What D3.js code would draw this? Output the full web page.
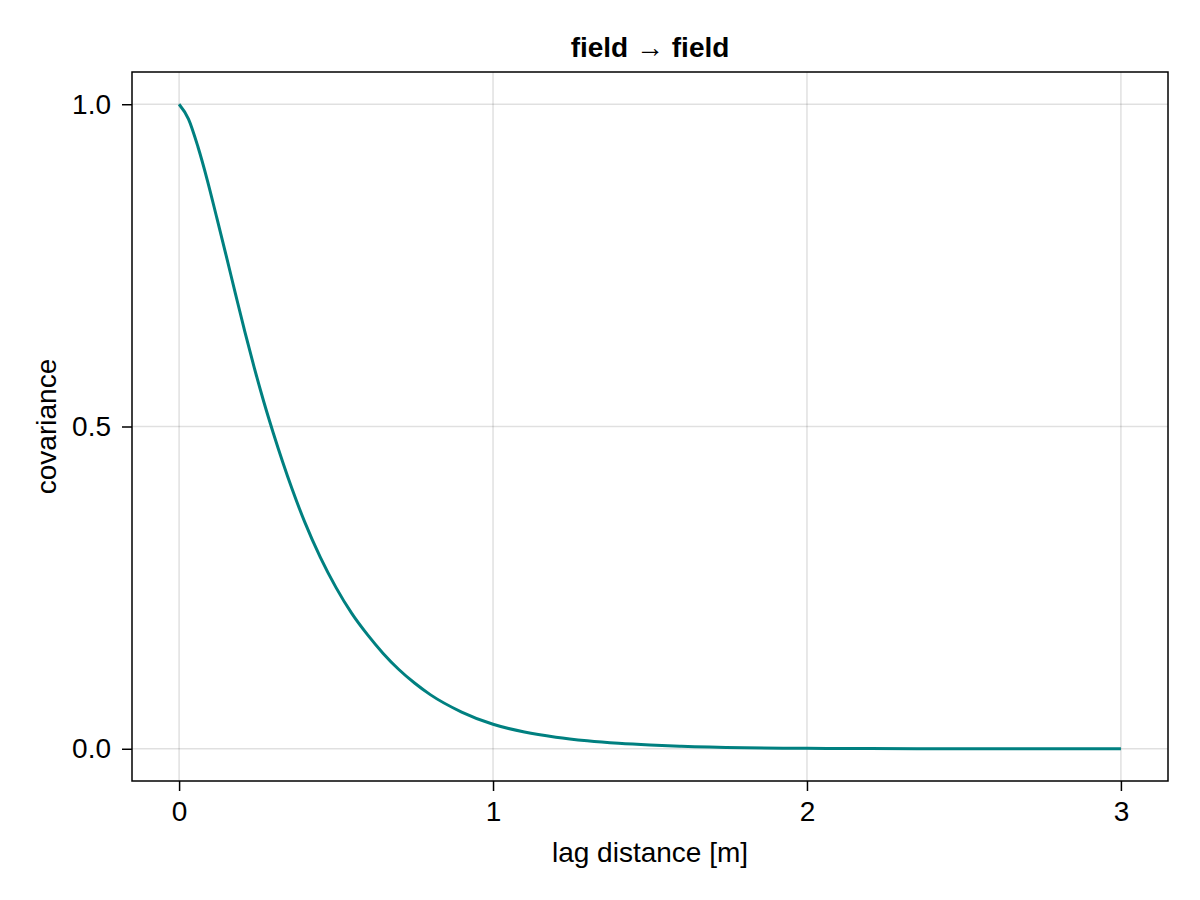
<!DOCTYPE html>
<html>
<head>
<meta charset="utf-8">
<script src="https://cdn.jsdelivr.net/npm/d3@7"></script>
<style>
  body { margin: 0; background: #fff; }
  svg text { font-family: "Liberation Sans", Arial, sans-serif; fill: #000; }
</style>
</head>
<body>
<div id="chart"></div>
<script>
const svgWidth = 1200;
const svgHeight = 900;
const margin = {top: 72, right: 32, bottom: 119, left: 132};
const width = svgWidth - margin.left - margin.right;
const height = svgHeight - margin.top - margin.bottom;

// values
const lagDistance = [0, 0.03, 0.06, 0.09, 0.12, 0.15, 0.18, 0.21, 0.24, 0.27, 0.30, 0.33, 0.36, 0.40,
                     0.45, 0.50, 0.55, 0.60, 0.65, 0.70, 0.75, 0.80, 0.90, 1.00, 1.10, 1.20, 1.30,
                     1.40, 1.50, 1.60, 1.80, 2.00, 2.20, 2.50, 3.00];
const covariance = [1.000, 0.977, 0.934, 0.882, 0.824, 0.765, 0.705, 0.646, 0.590, 0.538, 0.490, 0.445,
                    0.403, 0.352, 0.297, 0.250, 0.210, 0.177, 0.148, 0.123, 0.102, 0.084, 0.057, 0.038,
                    0.026, 0.018, 0.0125, 0.0086, 0.0059, 0.0040, 0.0017, 0.0007, 0.0003, 0.0001, 0.0];
const xTicks = [0, 1, 2, 3];
const yTicks = [0, 0.5, 1.0];

const title = "field \u2192 field";
const xLabel = "lag distance [m]";
const yLabel = "covariance";

const svg = d3.select("#chart")
              .append("svg")
              .attr("width", svgWidth)
              .attr("height", svgHeight);

const g = svg.append("g")
             .attr("transform", "translate(" + margin.left + "," + margin.top + ")");

const xscale = d3.scaleLinear().domain([-0.15, 3.15]).range([0, width]);
const yscale = d3.scaleLinear().domain([-0.05, 1.05]).range([height, 0]);

// grid lines
g.append("g").selectAll("line")
  .data(xTicks).enter().append("line")
  .attr("x1", d => xscale(d)).attr("x2", d => xscale(d))
  .attr("y1", 0).attr("y2", height)
  .attr("stroke", "rgba(0,0,0,0.12)").attr("stroke-width", 1.5);

g.append("g").selectAll("line")
  .data(yTicks).enter().append("line")
  .attr("y1", d => yscale(d)).attr("y2", d => yscale(d))
  .attr("x1", 0).attr("x2", width)
  .attr("stroke", "rgba(0,0,0,0.12)").attr("stroke-width", 1.5);

// the curve
const line = d3.line()
               .x((d, i) => xscale(lagDistance[i]))
               .y(d => yscale(d))
               .curve(d3.curveMonotoneX);

g.append("path")
  .datum(covariance)
  .attr("fill", "none")
  .attr("stroke", "#008080")
  .attr("stroke-width", 3)
  .attr("d", line);

// axes
const xaxis = d3.axisBottom(xscale).tickValues(xTicks).tickFormat(d3.format("d"))
                .tickSizeInner(10).tickSizeOuter(0).tickPadding(10);
const yaxis = d3.axisLeft(yscale).tickValues(yTicks).tickFormat(d3.format(".1f"))
                .tickSizeInner(10).tickSizeOuter(0).tickPadding(11);

const xg = g.append("g").attr("transform", "translate(0," + height + ")").call(xaxis);
const yg = g.append("g").call(yaxis);

[xg, yg].forEach(a => {
  a.select(".domain").remove();
  a.selectAll(".tick line").attr("stroke", "#000").attr("stroke-width", 1.5);
  a.selectAll(".tick text").attr("font-size", 28).attr("fill", "#000")
   .style("font-family", "'Liberation Sans', Arial, sans-serif");
});

// frame
g.append("rect")
  .attr("x", 0).attr("y", 0)
  .attr("width", width).attr("height", height)
  .attr("fill", "none").attr("stroke", "#000").attr("stroke-width", 1.5);

// title and labels
svg.append("text")
   .attr("x", margin.left + width / 2).attr("y", 57)
   .attr("text-anchor", "middle")
   .attr("font-size", 28).attr("font-weight", "bold")
   .text(title);

svg.append("text")
   .attr("x", margin.left + width / 2).attr("y", 862)
   .attr("text-anchor", "middle")
   .attr("font-size", 28)
   .text(xLabel);

svg.append("text")
   .attr("transform", "translate(56," + (margin.top + height / 2) + ")rotate(-90)")
   .attr("text-anchor", "middle")
   .attr("font-size", 28)
   .text(yLabel);
</script>
</body>
</html>
